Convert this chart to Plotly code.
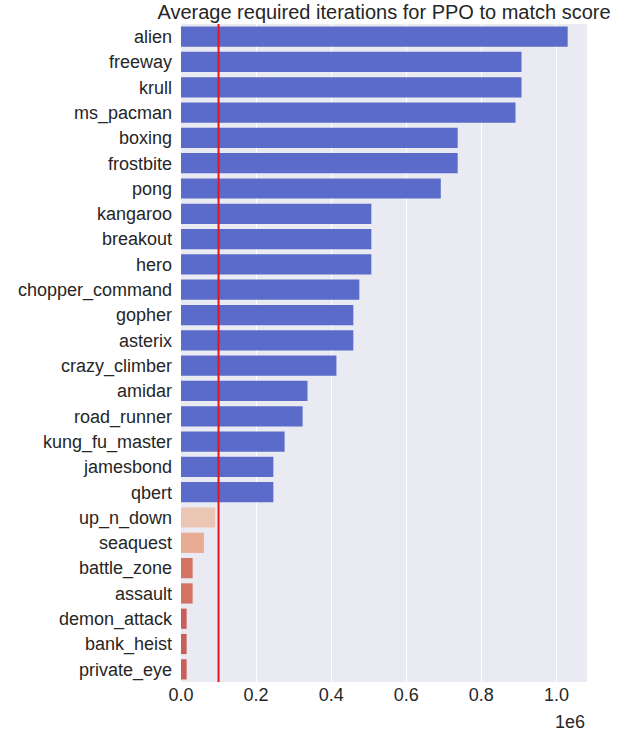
import plotly.graph_objects as go

games = ["alien", "freeway", "krull", "ms_pacman", "boxing", "frostbite", "pong",
         "kangaroo", "breakout", "hero", "chopper_command", "gopher", "asterix",
         "crazy_climber", "amidar", "road_runner", "kung_fu_master", "jamesbond",
         "qbert", "up_n_down", "seaquest", "battle_zone", "assault", "demon_attack",
         "bank_heist", "private_eye"]
iterations = [1030000, 907000, 907000, 891000, 737000, 737000, 692000,
              507000, 507000, 507000, 475000, 459000, 459000,
              414000, 337000, 324000, 276000, 246000,
              246000, 91000, 61000, 31000, 31000, 15000,
              15000, 15000]
bar_colors = ["#5a6bc9"] * 19 + ["#ecc6b4", "#e8ac94", "#d27363", "#d27363",
                                 "#c85f58", "#c85f58", "#c85f58"]
threshold = 100000
tick_vals = [0, 200000, 400000, 600000, 800000, 1000000]
tick_text = ["0.0", "0.2", "0.4", "0.6", "0.8", "1.0"]

fig = go.Figure(go.Bar(
    x=iterations, y=games, orientation="h",
    marker=dict(color=bar_colors, line=dict(width=0)),
    width=0.8,
))

# reference line at 1e5
fig.add_shape(type="line", xref="x", yref="paper", x0=threshold, x1=threshold,
              y0=0, y1=1, line=dict(color="#e8141c", width=2))

fig.add_annotation(text="1e6", xref="paper", yref="paper", x=1, y=-0.043,
                   xanchor="right", yanchor="top", showarrow=False,
                   font=dict(size=18, color="#262626"))

fig.update_layout(
    width=643, height=741,
    margin=dict(l=181, r=56, t=24, b=59),
    paper_bgcolor="white", plot_bgcolor="#eaeaf2",
    font=dict(family="Liberation Sans, Arial, sans-serif", size=18, color="#262626"),
    title=dict(text="Average required iterations for PPO to match score",
               xref="paper", x=0.5, xanchor="center", y=0.9838, yanchor="middle",
               font=dict(size=20)),
    showlegend=False,
)
fig.update_xaxes(range=[0, 1081500], tickvals=tick_vals, ticktext=tick_text,
                 showgrid=True, gridcolor="white", gridwidth=1.3,
                 zeroline=False, ticks="", showline=False, automargin=False)
fig.update_yaxes(autorange="reversed", showgrid=False, ticks="", showline=False,
                 ticklabelstandoff=8, automargin=False)

# drop the browser's default 8px body margin so the figure sits at the corner
fig.write_html("out.html", config={"displayModeBar": False},
               post_script="document.body.style.margin='0';")
